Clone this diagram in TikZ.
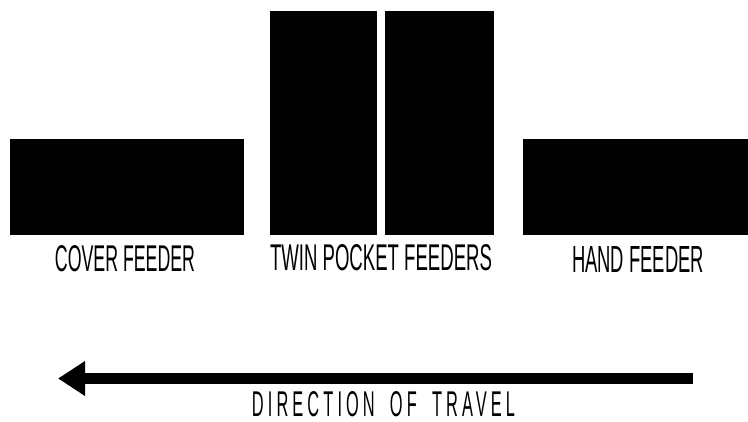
\documentclass[tikz,border=0pt]{standalone}
\usepackage{fontspec}
\setmainfont{Liberation Sans}
\usetikzlibrary{arrows.meta}
\tikzset{
  feeder/.style={fill=black, draw=none, inner sep=0pt, anchor=north west},
  lbl/.style={inner sep=0pt, anchor=center},
  travel/.style={line width=11pt, -{Triangle[length=27pt,width=33pt]}}
}
\begin{document}
\begin{tikzpicture}[x=1pt,y=-1pt]
\useasboundingbox (0,0) rectangle (748,422);
% boxes
\node[feeder, minimum width=234pt, minimum height=96pt] (cover) at (10,139) {};
\node[feeder, minimum width=107pt, minimum height=224pt] (pocketA) at (270,11) {};
\node[feeder, minimum width=109pt, minimum height=224pt] (pocketB) at (385,11) {};
\node[feeder, minimum width=225pt, minimum height=96pt] (hand) at (523,139) {};
% labels
\node[lbl] (coverlbl) at (125,259) {\resizebox{140pt}{26pt}{COVER FEEDER}};
\node[lbl] (pocketlbl) at (381,258) {\resizebox{222pt}{26pt}{TWIN POCKET FEEDERS}};
\node[lbl] (handlbl) at (638,259) {\resizebox{132pt}{26pt}{HAND FEEDER}};
% arrow
\coordinate (arrowR) at (693,378.5);
\coordinate (arrowL) at (58,378.5);
\draw[travel] (arrowR) -- (arrowL);
\node[lbl] (dirlbl) at (383.5,404.5) {\resizebox{263pt}{25pt}{\addfontfeature{LetterSpace=25}DIRECTION\hspace{0.4em} OF\hspace{0.4em} TRAVEL}};
\end{tikzpicture}
\end{document}
